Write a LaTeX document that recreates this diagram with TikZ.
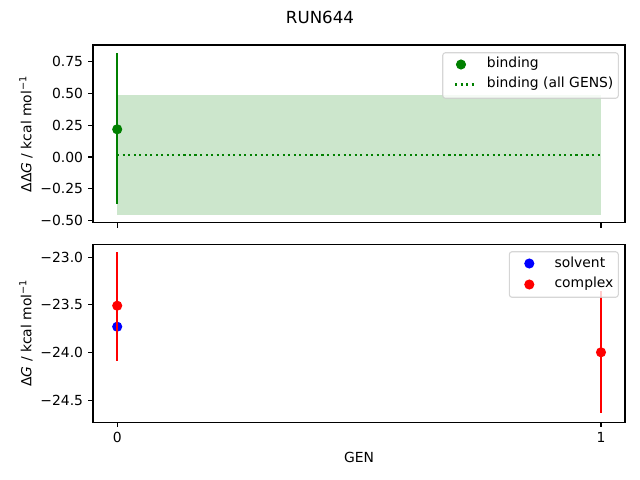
\documentclass[tikz,border=0pt]{standalone}
\usepackage{fontspec}
\setmainfont{DejaVu Sans}
\definecolor{mgreen}{RGB}{0,128,0}
\definecolor{mshade}{RGB}{204,230,204}
\definecolor{legedge}{RGB}{204,204,204}
\tikzset{
  frame/.style={draw=black, line width=0.8pt},
  tick/.style={draw=black, line width=0.8pt},
  ticklab/.style={font=\fontsize{10}{12}\selectfont, inner sep=0pt},
  ebar/.style={line width=1.5pt},
  dot/.style={circle, inner sep=0pt, minimum size=7.3pt},
  legbox/.style={draw=legedge, fill=white, fill opacity=0.8, draw opacity=0.8, rounded corners=2pt, line width=0.8pt},
  legtext/.style={font=\fontsize{10}{12}\selectfont, anchor=west, inner sep=0pt},
}
\begin{document}
\begin{tikzpicture}[x=0.72pt, y=-0.72pt]
\useasboundingbox (0,0) rectangle (640,480);
% title
\node[font=\fontsize{12}{14}\selectfont, inner sep=0pt] (title) at (320,17) {RUN644};

% ===== top axes =====
\fill[mshade] (117.2,95) rectangle (600.8,215);
\draw[mgreen, line width=1.5pt, dash pattern=on 1.5pt off 2.475pt] (117.2,155) -- (600.8,155);
\draw[mgreen, ebar] (117.2,53.3) -- (117.2,204.3);
\node[dot, fill=mgreen] (bind0) at (117.2,129.3) {};
\draw[frame] (93,45) rectangle (625,222.7);
\foreach \yy/\lab in {61.9/0.75, 93.6/0.50, 125.3/0.25, 157/0.00, 188.7/{−0.25}, 220.4/{−0.50}}{
  \draw[tick] (93,\yy) -- (88.1,\yy);
  \node[ticklab, anchor=east] at (83.3,\yy) {\lab};
}
\foreach \xx in {117.2, 601}{
  \draw[tick] (\xx,222.7) -- (\xx,227.6);
}
\node[rotate=90, font=\fontsize{10}{12}\selectfont, inner sep=0pt] (ylabtop) at (26,134) {ΔΔ\textit{G} / kcal mol\textsuperscript{−1}};
% legend top
\draw[legbox] (442.7,52.7) rectangle (618.3,98.3);
\node[dot, fill=mgreen] (legbind) at (461,64.5) {};
\draw[mgreen, line width=1.5pt, dash pattern=on 1.5pt off 2.475pt] (455,84.5) -- (475,84.5);
\node[legtext] (lt1) at (486.7,64) {binding};
\node[legtext] (lt2) at (486.7,84) {binding (all GENS)};

% ===== bottom axes =====
\node[dot, fill=blue] (solv0) at (117.2,326.7) {};
\draw[red, ebar] (117.2,252.3) -- (117.2,360.7);
\node[dot, fill=red] (cplx0) at (117.2,305.7) {};
\draw[red, ebar] (601,291) -- (601,413.3);
\node[dot, fill=red] (cplx1) at (601,352.3) {};
\draw[frame] (93,244.3) rectangle (625,422.3);
\foreach \yy/\lab in {257.3/{−23.0}, 304.9/{−23.5}, 352.5/{−24.0}, 400.1/{−24.5}}{
  \draw[tick] (93,\yy) -- (88.1,\yy);
  \node[ticklab, anchor=east] at (83.3,\yy) {\lab};
}
\foreach \xx/\lab in {117.2/0, 601/1}{
  \draw[tick] (\xx,422.3) -- (\xx,427.2);
  \node[ticklab, anchor=north] at (\xx,432) {\lab};
}
\node[rotate=90, font=\fontsize{10}{12}\selectfont, inner sep=0pt] (ylabbot) at (26,333) {Δ\textit{G} / kcal mol\textsuperscript{−1}};
\node[font=\fontsize{10}{12}\selectfont, inner sep=0pt] (xlab) at (359,457) {GEN};
% legend bottom
\draw[legbox] (509.3,251.7) rectangle (618.3,297.3);
\node[dot, fill=blue] (legsolv) at (529.3,263.5) {};
\node[dot, fill=red] (legcplx) at (529.3,284.5) {};
\node[legtext] (lb1) at (554.3,262.3) {solvent};
\node[legtext] (lb2) at (554.3,284) {complex};
\end{tikzpicture}
\end{document}
